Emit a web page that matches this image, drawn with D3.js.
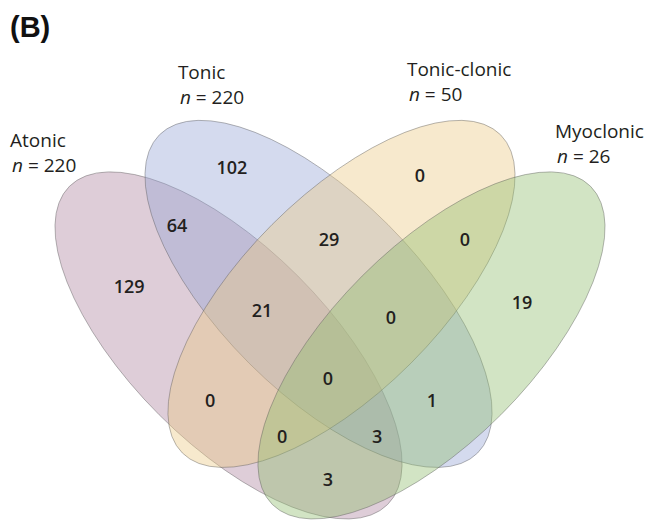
<!DOCTYPE html>
<html>
<head>
<meta charset="utf-8">
<script src="https://cdn.jsdelivr.net/npm/d3@7"></script>
<style>
  html, body { margin: 0; padding: 0; background: #fff; }
  svg { display: block; }
</style>
</head>
<body>
<svg id="chart" width="646" height="521"></svg>
<script>
// ---- data -------------------------------------------------------------
const panelLabel = "(B)";
const setNames = ["Atonic", "Tonic", "Tonic-clonic", "Myoclonic"];
const setSizes = [220, 220, 50, 26];
const setColors = ["#ac829d", "#93a2d4", "#ebc882", "#8ebb6b"];

// each region: indices of the sets it belongs to, and its count
const regionMembers = [
  [0], [1], [2], [3],
  [0, 1], [1, 2], [2, 3], [0, 2], [1, 3], [0, 3],
  [0, 1, 2], [1, 2, 3], [0, 2, 3], [0, 1, 3],
  [0, 1, 2, 3]
];
const regionCounts = [129, 102, 0, 19, 64, 29, 0, 0, 1, 3, 21, 0, 0, 3, 0];

// ---- layout (diagram units: 1 = long semi-axis of an ellipse) ---------
const ellipseLayout = [
  { cx: -0.451, cy: 0.113, rot: 45 },
  { cx: -0.051, cy: -0.116, rot: 45 },
  { cx: 0.051, cy: -0.116, rot: -45 },
  { cx: 0.451, cy: 0.113, rot: -45 }
];
const semiMajor = 1.0, semiMinor = 0.436;

// anchor of each region's count, same order as regionMembers
const regionAnchors = [
  [-0.893, -0.147], [-0.436, -0.676], [0.400, -0.640], [0.853, -0.076],
  [-0.680, -0.422], [-0.004, -0.356], [0.600, -0.356], [-0.533, 0.356],
  [0.453, 0.356], [-0.009, 0.711],
  [-0.302, -0.044], [0.271, -0.009], [-0.213, 0.516], [0.209, 0.520],
  [-0.009, 0.258]
];

// set caption anchors (left edge of first line, baseline)
const captionAnchors = [
  [-1.422, -0.769], [-0.676, -1.071], [0.342, -1.084], [1.000, -0.809]
];

// ---- scales -------------------------------------------------------------
const unit = 225;
const x = d3.scaleLinear().domain([-1, 1]).range([330 - unit, 330 + unit]);
const y = d3.scaleLinear().domain([-1, 1]).range([320 - unit, 320 + unit]);

const svg = d3.select("#chart");
const ink = "#231f20";

// ---- ellipses -----------------------------------------------------------
svg.append("g")
  .selectAll("ellipse")
  .data(ellipseLayout)
  .join("ellipse")
  .attr("cx", 0)
  .attr("cy", 0)
  .attr("rx", x(semiMajor) - x(0))
  .attr("ry", x(semiMinor) - x(0))
  .attr("transform", d => `translate(${x(d.cx)},${y(d.cy)}) rotate(${d.rot})`)
  .attr("fill", (d, i) => setColors[i])
  .attr("fill-opacity", 0.4)
  .attr("stroke", "#5a5a5a")
  .attr("stroke-opacity", 0.45)
  .attr("stroke-width", 0.9);

// ---- region counts ------------------------------------------------------
svg.append("g")
  .selectAll("text")
  .data(regionCounts)
  .join("text")
  .attr("x", (d, i) => x(regionAnchors[i][0]))
  .attr("y", (d, i) => y(regionAnchors[i][1]))
  .attr("dy", "0.36em")
  .attr("text-anchor", "middle")
  .attr("font-family", "'Open Sans', sans-serif")
  .attr("font-weight", 600)
  .attr("font-size", 18)
  .attr("fill", ink)
  .text(d => d);

// ---- set captions -------------------------------------------------------
const captions = svg.append("g")
  .selectAll("g")
  .data(setNames)
  .join("g")
  .attr("transform", (d, i) => `translate(${x(captionAnchors[i][0])},${y(captionAnchors[i][1])})`)
  .attr("font-family", "'Open Sans', sans-serif")
  .attr("font-size", 19)
  .attr("fill", ink);

captions.append("text").text(d => d);

const nLine = captions.append("text")
  .attr("x", 2)
  .attr("y", 25);
nLine.append("tspan").attr("font-style", "italic").text("n");
nLine.append("tspan").text((d, i) => ` = ${setSizes[i]}`);

// ---- panel label --------------------------------------------------------
svg.append("text")
  .attr("x", 10)
  .attr("y", 37)
  .attr("font-family", "'Liberation Sans', Arial, sans-serif")
  .attr("font-weight", 700)
  .attr("font-size", 29)
  .attr("fill", "#111")
  .text(panelLabel);
</script>
</body>
</html>
